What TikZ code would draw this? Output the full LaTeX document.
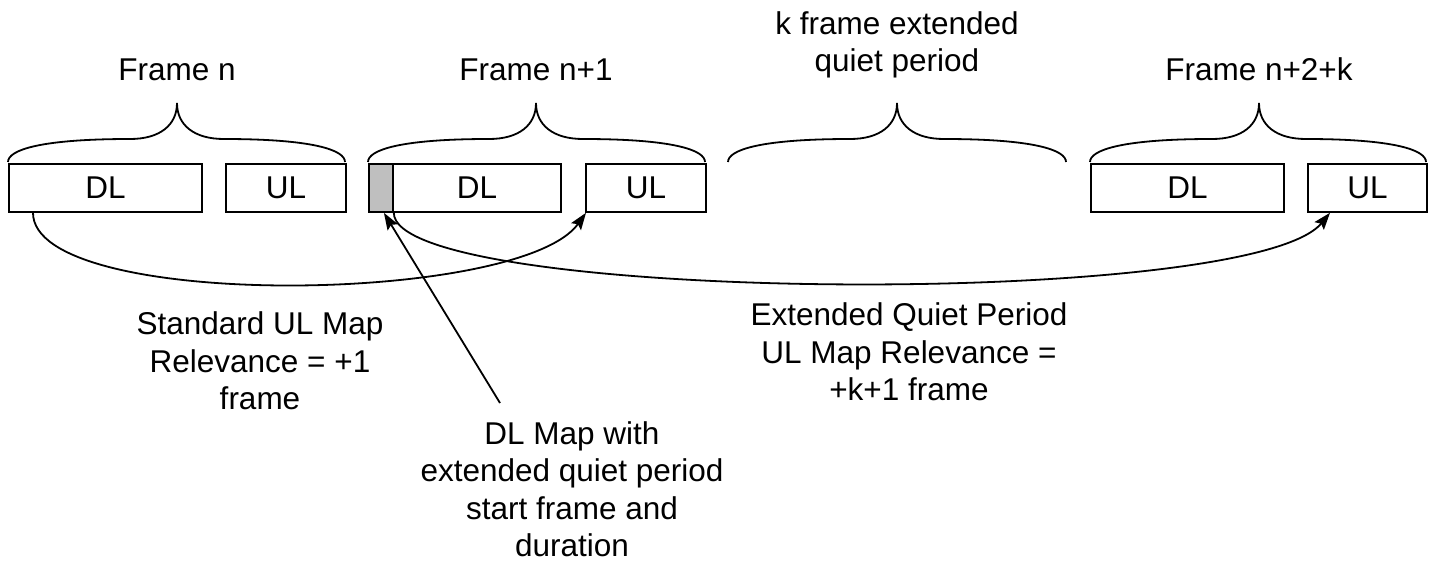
\documentclass[tikz,border=0pt]{standalone}
\usepackage{fontspec}
\setmainfont{Liberation Sans}
\usetikzlibrary{arrows.meta}
\begin{document}
\begin{tikzpicture}[x=1pt,y=-1pt,
  every node/.style={font=\fontsize{31.5}{37.5}\selectfont},
  slot/.style={draw,line width=1.8pt,minimum height=48pt,inner sep=0pt,anchor=north west},
  lbl/.style={align=center,inner sep=0pt},
  brace/.style={line width=1.8pt},
  conn/.style={line width=1.8pt,-{Stealth[length=17pt,width=12pt,inset=3pt]}}]
\useasboundingbox (0,0) rectangle (1437,565);
% boxes
\node[slot,minimum width=193pt] (dl1) at (8,163) {DL};
\node[slot,minimum width=120pt] (ul1) at (225,163) {UL};
\node[slot,minimum width=24pt,fill=black!25] (gray) at (368,163) {};
\node[slot,minimum width=168pt] (dl2) at (392,163) {DL};
\node[slot,minimum width=120pt] (ul2) at (585,163) {UL};
\node[slot,minimum width=193pt] (dl3) at (1090,163) {DL};
\node[slot,minimum width=119pt] (ul3) at (1307,163) {UL};
% braces
\foreach \xa/\xc/\xb in {8/177/345, 368/536/705, 728/897/1066, 1090/1259/1426}{
  \draw[brace] (\xa,162) .. controls (\xa,150) and (\xa+32,139) .. (\xc-47,139)
     .. controls (\xc-17,139) and (\xc,125) .. (\xc,103)
     .. controls (\xc,125) and (\xc+17,139) .. (\xc+47,139)
     .. controls (\xb-32,139) and (\xb,150) .. (\xb,162);
}
% labels
\node[lbl,anchor=base] (fn) at (177,80) {Frame n};
\node[lbl,anchor=base] (fn1) at (536,80) {Frame n+1};
\node[lbl] (kq) at (897,45) {k frame extended\\quiet period};
\node[lbl,anchor=base] (fn2) at (1259,80) {Frame n+2+k};
\node[lbl] (std) at (260,361) {Standard UL Map\\Relevance = +1\\frame};
\node[lbl] (dlm) at (572,489) {DL Map with\\extended quiet period\\start frame and\\duration};
\node[lbl] (ext) at (909,352) {Extended Quiet Period\\UL Map Relevance =\\+k+1 frame};
% connectors
\coordinate (a1s) at ([xshift=25pt]dl1.south west);
\coordinate (a1e) at ([xshift=1pt]ul2.south west);
\draw[conn] (a1s) .. controls +(0,98) and (520,305) .. (a1e);
\coordinate (a2s) at (gray.south east);
\coordinate (a2e) at ([xshift=23pt]ul3.south west);
\draw[conn] (a2s) .. controls +(0,90) and (1250,310) .. (a2e);
\coordinate (a3s) at (500,403);
\draw[conn] (a3s) -- ([xshift=3pt]gray.south);
\end{tikzpicture}
\end{document}
